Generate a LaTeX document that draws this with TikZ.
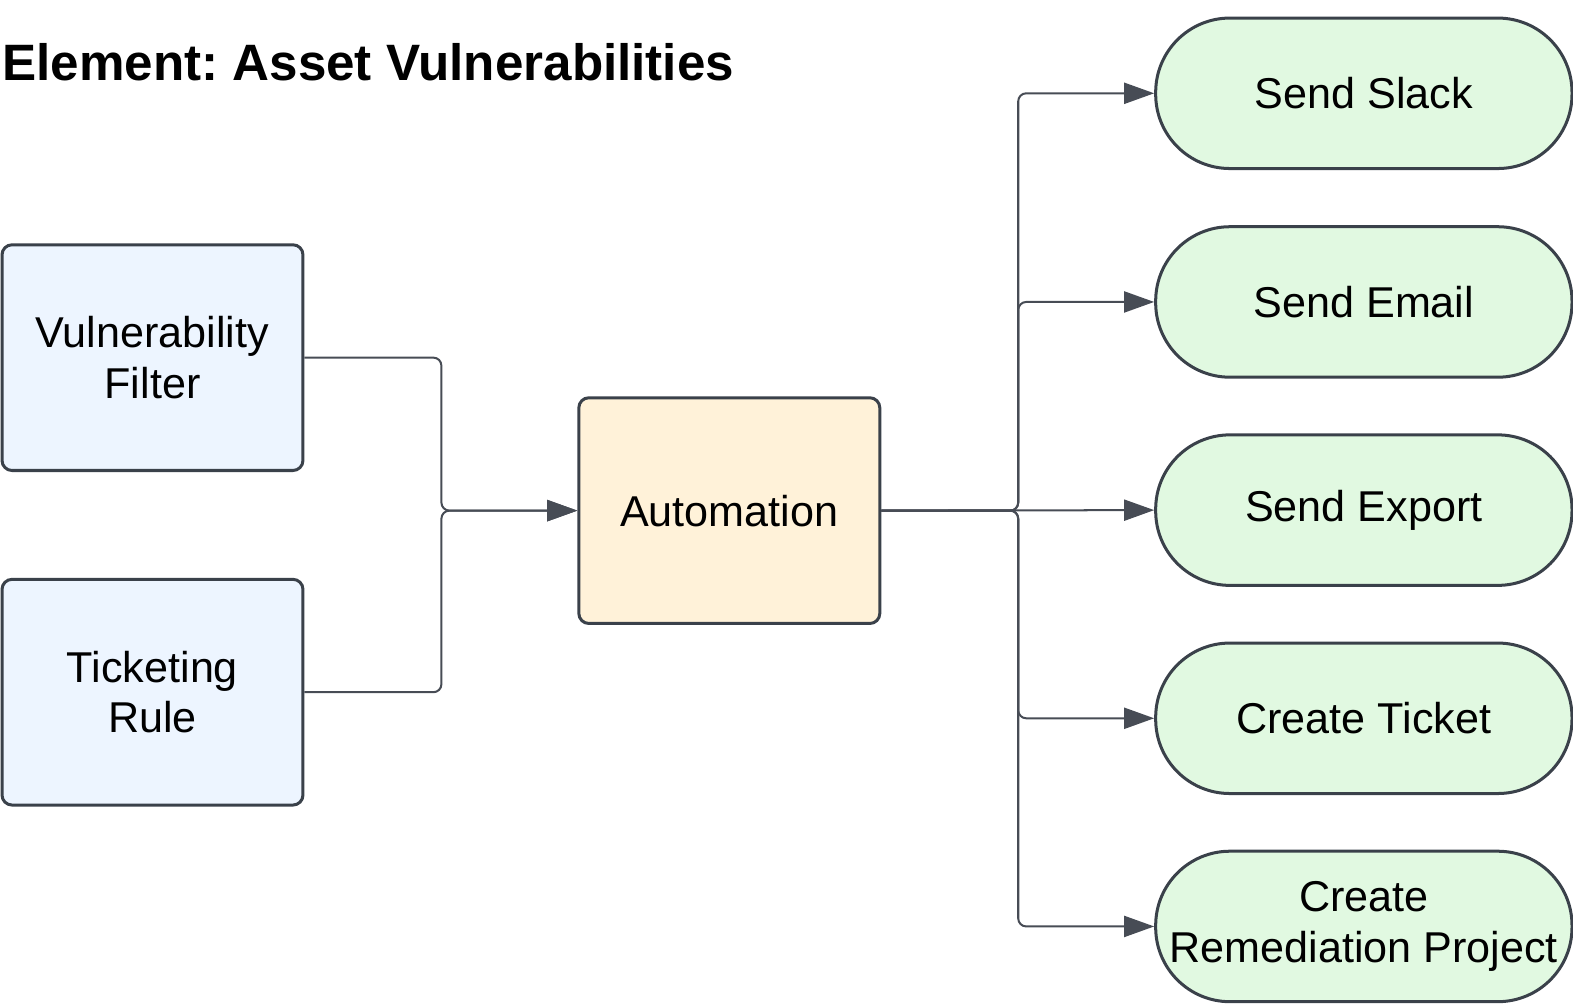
\documentclass[tikz,border=0pt]{standalone}
\usepackage{fontspec}
\setmainfont{Liberation Sans}
\usetikzlibrary{arrows.meta}
\frenchspacing
\definecolor{edge}{HTML}{3A414A}
\definecolor{conn}{HTML}{474C55}
\definecolor{bluef}{HTML}{EDF5FF}
\definecolor{yellowf}{HTML}{FFF2D9}
\definecolor{greenf}{HTML}{E1F9E1}
\tikzset{
  box/.style={draw=edge, line width=1.5pt, rounded corners=5pt, minimum width=150pt, minimum height=112.5pt, align=center, font=\fontsize{21.5}{25}\selectfont, inner sep=0pt},
  srcbox/.style={box, fill=bluef},
  autobox/.style={box, fill=yellowf},
  pill/.style={draw=edge, line width=1.5pt, rounded corners=37pt, minimum width=207.5pt, minimum height=75pt, fill=greenf, align=center, font=\fontsize{21.5}{25}\selectfont, inner sep=0pt},
  conn/.style={draw=conn, line width=1pt, rounded corners=4pt},
  arr/.style={conn, -{Triangle[length=15pt, width=10.5pt]}}
}
\begin{document}
\begin{tikzpicture}[x=0.5pt, y=-0.5pt]
\useasboundingbox (0,0) rectangle (1568,1000);
\node[anchor=base west, inner sep=0pt, font=\bfseries\fontsize{25.5}{30}\selectfont] (title) at (2,80) {Element: Asset Vulnerabilities};
\node[srcbox] (vf) at (152,356.5) {Vulnerability\\Filter};
\node[srcbox] (tr) at (152,690) {Ticketing\\Rule};
\node[autobox] (auto) at (727,509) {Automation};
\node[pill] (slack) at (1359.5,93) {Send Slack};
\node[pill] (email) at (1359.5,301) {Send Email};
\node[pill] (export) at (1359.5,508.5) {Send Export};
\node[pill] (ticket) at (1359.5,716) {Create Ticket};
\node[pill] (remed) at (1359.5,923.5) {Create\\Remediation Project};
\coordinate (jl) at (440,509);
\coordinate (jr) at (1015,509);
\draw[arr] (vf.east) -- (vf.east -| jl) -- (jl) -- (auto.west);
\draw[arr] (tr.east) -- (tr.east -| jl) -- (jl) -- (auto.west);
\draw[arr] (auto.east) -- (jr) -- (jr |- slack.west) -- (slack.west);
\draw[arr] (auto.east) -- (jr) -- (jr |- email.west) -- (email.west);
\draw[arr] (auto.east) -- (export.west);
\draw[arr] (auto.east) -- (jr) -- (jr |- ticket.west) -- (ticket.west);
\draw[arr] (auto.east) -- (jr) -- (jr |- remed.west) -- (remed.west);
\end{tikzpicture}
\end{document}
